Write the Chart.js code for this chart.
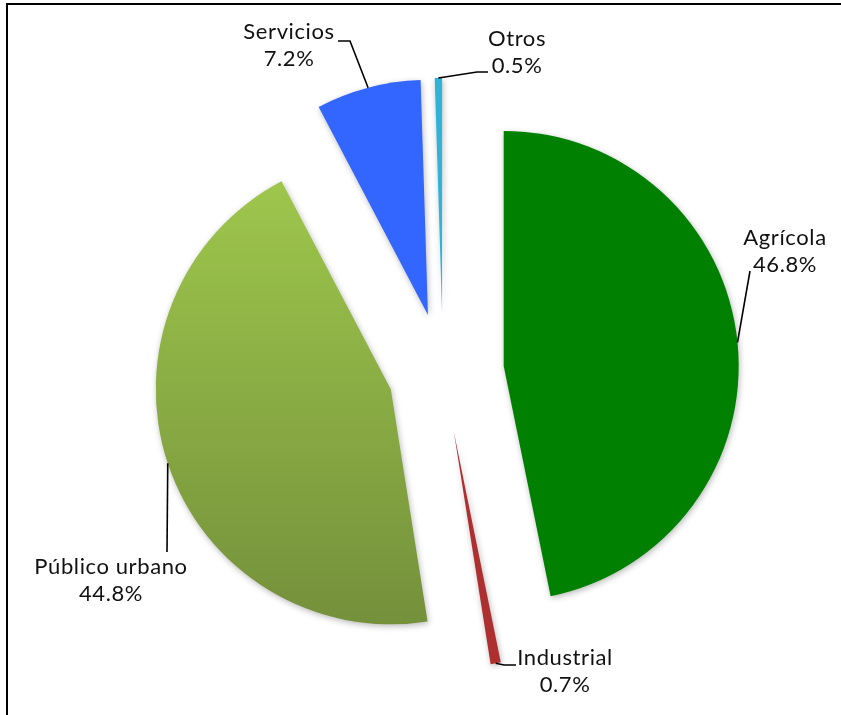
<!DOCTYPE html>
<html>
<head>
<meta charset="utf-8">
<script src="https://cdn.jsdelivr.net/npm/chart.js@4.4.1/dist/chart.umd.min.js"></script>
<style>
  html, body { margin: 0; padding: 0; background: #fff; }
  #frame { position: relative; width: 841px; height: 715px; overflow: hidden; }
  #frame::before {
    content: ""; position: absolute; left: 6px; top: 3px; right: -4px; bottom: -4px;
    border-left: 2px solid #000; border-top: 2px solid #000;
  }
  canvas { position: absolute; left: 0; top: 0; }
</style>
</head>
<body>
<div id="frame"><canvas id="chart-uso-agua" width="841" height="715"></canvas></div>
<script>
// Uso del agua por sector (%)
const categories = ["Agrícola", "Industrial", "Público urbano", "Servicios", "Otros"];
const shares = [46.8, 0.7, 44.8, 7.2, 0.5];

// separación de cada sector respecto al centro (px)
const explode = [61, 61, 55, 59, 59];

// texto de etiqueta: centro x, y de la primera línea; y trazo de la guía desde el arco
const labelSpots = [
  { x: 785, y: 238, guide: [[750, 271]] },
  { x: 565, y: 658, guide: [[504, 665], [516, 665]] },
  { x: 111, y: 567, guide: [[167, 552]] },
  { x: 289, y: 32, guide: [[350, 41], [338, 41]] },
  { x: 517, y: 39, guide: [[477, 72], [488, 72]] },
];

const colors = {
  agricola: "#008000",
  industrial: "#AE2F2F",
  publicoTop: "#9EC64C",
  publicoBottom: "#74903B",
  servicios: "#3366FF",
  otros: "#31B2D8",
};

const FONT = "22px Lato";
const LINE_GAP = 27;

function sliceColor(ctx) {
  const i = ctx.dataIndex;
  if (i === 0) return colors.agricola;
  if (i === 1) return colors.industrial;
  if (i === 3) return colors.servicios;
  if (i === 4) return colors.otros;
  // público urbano: degradado vertical
  const chart = ctx.chart;
  const area = chart.chartArea;
  if (!area) return colors.publicoTop;
  const cy = (area.top + area.bottom) / 2;
  const g = chart.ctx.createLinearGradient(0, cy - 190, 0, cy + 255);
  g.addColorStop(0, colors.publicoTop);
  g.addColorStop(1, colors.publicoBottom);
  return g;
}

const explodePlugin = {
  id: "explodeSlices",
  afterDatasetUpdate(chart, args) {
    args.meta.data.forEach((arc, i) => {
      const mid = (arc.startAngle + arc.endAngle) / 2;
      arc.x += explode[i] * Math.cos(mid);
      arc.y += explode[i] * Math.sin(mid);
    });
  },
  beforeDatasetsDraw(chart) {
    const c = chart.ctx;
    c.save();
    c.shadowColor = "rgba(0, 0, 0, 0.28)";
    c.shadowBlur = 6;
    c.shadowOffsetX = 1;
    c.shadowOffsetY = 2;
  },
  afterDatasetsDraw(chart) {
    chart.ctx.restore();
  },
};

const labelPlugin = {
  id: "sliceLabels",
  afterDraw(chart) {
    const c = chart.ctx;
    const meta = chart.getDatasetMeta(0);
    c.save();
    c.strokeStyle = "#000";
    c.lineWidth = 1.6;
    c.fillStyle = "#111";
    c.font = FONT;
    c.textAlign = "center";
    c.textBaseline = "middle";
    if ("letterSpacing" in c) c.letterSpacing = "0.6px";
    meta.data.forEach((arc, i) => {
      const mid = (arc.startAngle + arc.endAngle) / 2;
      const sx = arc.x + arc.outerRadius * Math.cos(mid);
      const sy = arc.y + arc.outerRadius * Math.sin(mid);
      c.beginPath();
      c.moveTo(sx, sy);
      labelSpots[i].guide.forEach(([x, y]) => c.lineTo(x, y));
      c.stroke();
      const spot = labelSpots[i];
      c.fillText(categories[i], spot.x, spot.y);
      c.fillText(shares[i].toFixed(1) + "%", spot.x, spot.y + LINE_GAP);
    });
    c.restore();
  },
};

new Chart(document.getElementById("chart-uso-agua"), {
  type: "pie",
  data: {
    labels: categories,
    datasets: [
      {
        data: shares,
        backgroundColor: sliceColor,
        borderWidth: 0,
        radius: 235,
      },
    ],
  },
  options: {
    responsive: false,
    animation: false,
    layout: { padding: { left: 45, top: 29, right: 0, bottom: 0 } },
    plugins: {
      legend: { display: false },
      tooltip: { enabled: false },
    },
  },
  plugins: [explodePlugin, labelPlugin],
});
</script>
</body>
</html>
